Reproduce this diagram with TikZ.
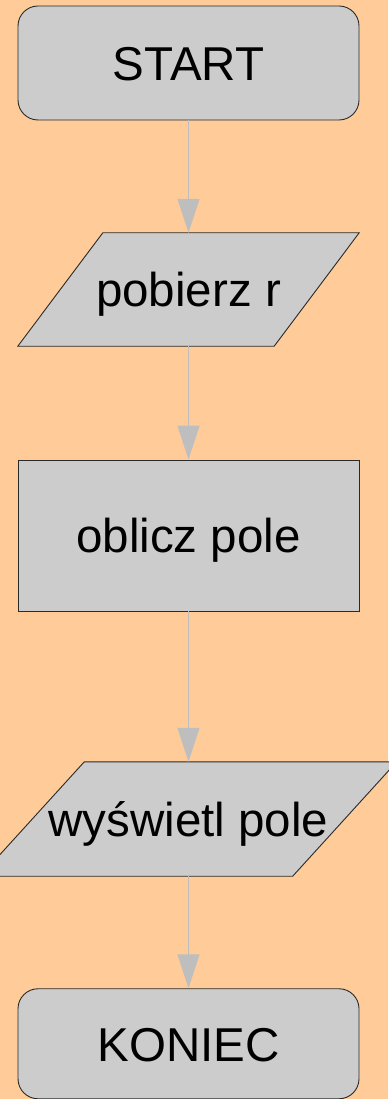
\documentclass[tikz,border=0pt]{standalone}
\usepackage{fontspec}
\setmainfont{Liberation Sans}
\usetikzlibrary{arrows.meta,backgrounds}
\definecolor{bgc}{HTML}{FFCC99}
\definecolor{boxc}{HTML}{CCCCCC}
\definecolor{linec}{HTML}{BEBEBE}
\definecolor{edgec}{HTML}{2A2A2A}
\begin{document}
\begin{tikzpicture}[x=1pt,y=-1pt,
  txt/.style={inner sep=0pt,text height=34.5pt,text depth=0pt,font=\fontsize{47.5}{52}\selectfont},
  termbox/.style={txt,draw=edgec,line width=0.9pt,fill=boxc,rounded corners=20pt,minimum width=341pt},
  procbox/.style={txt,draw=edgec,line width=0.9pt,fill=boxc,minimum width=341pt},
  iobox/.style={txt},
  ioshape/.style={draw=edgec,line width=0.9pt,fill=boxc,line join=miter},
  conn/.style={draw=linec,line width=1.1pt,-{Triangle[width=22pt,length=34pt,fill=linec,color=linec]}}]
\useasboundingbox (0,0) rectangle (388,1099);
\begin{scope}[on background layer]
  \fill[bgc] (0,0) rectangle (388,1099);
\end{scope}
\node[termbox,minimum height=114pt] (start) at (188.5,63) {START};
\node[iobox,minimum width=256pt,minimum height=113pt] (in) at (188.5,289.5) {pobierz r};
\node[procbox,minimum height=151pt] (calc) at (188.5,535.5) {oblicz pole};
\node[iobox,minimum width=312pt,minimum height=114pt] (out) at (188.5,819) {wyświetl pole};
\node[termbox,minimum height=110pt] (end) at (188.5,1043.75) {KONIEC};
\begin{scope}[on background layer]
  \path[ioshape] ([xshift=42.5pt]in.north west) -- ([xshift=42.5pt]in.north east)
     -- ([xshift=-42.5pt]in.south east) -- ([xshift=-42.5pt]in.south west) -- cycle;
  \path[ioshape] ([xshift=52pt]out.north west) -- ([xshift=52pt]out.north east)
     -- ([xshift=-52pt]out.south east) -- ([xshift=-52pt]out.south west) -- cycle;
\end{scope}
\draw[conn] (start) -- (in);
\draw[conn] (in) -- (calc);
\draw[conn] (calc) -- (out);
\draw[conn] (out) -- (end);
\end{tikzpicture}
\end{document}
